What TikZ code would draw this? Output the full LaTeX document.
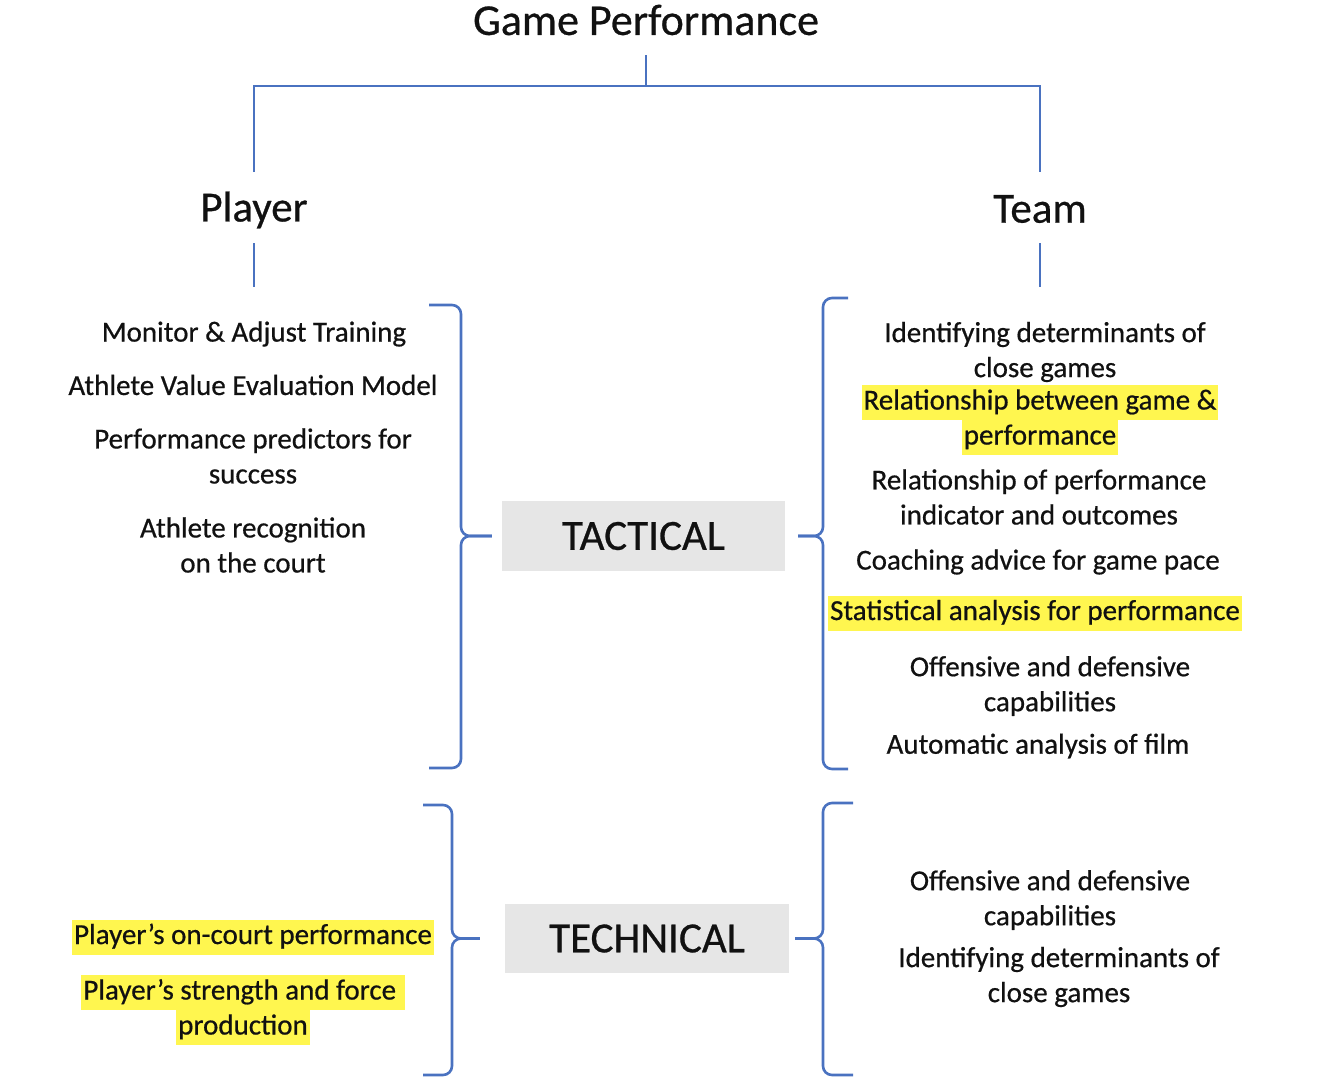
\documentclass[tikz,border=0pt]{standalone}
\usepackage{fontspec}
\setmainfont{Carlito}[FakeBold=0.6]
\usepackage{tikz}
\usetikzlibrary{positioning}
\definecolor{linkblue}{HTML}{4A72C0}
\definecolor{hlyellow}{HTML}{FFF64F}
\definecolor{boxgray}{HTML}{E6E6E6}
\definecolor{inkgray}{HTML}{111111}
\newcommand{\hlt}[1]{{\setlength{\fboxsep}{0pt}\colorbox{hlyellow}{\kern2pt\strut#1\kern2pt}}}

\begin{document}
\begin{tikzpicture}[x=1pt,y=-1pt,
    line/.style={draw=linkblue,line width=2.6pt},
    brace/.style={draw=linkblue,line width=2.6pt,rounded corners=9pt},
    item/.style={align=center,inner sep=0pt,text=inkgray,font=\fontsize{29}{35}\selectfont},
    head/.style={inner sep=0pt,text=inkgray,font=\fontsize{43}{51}\selectfont},
    cat/.style={fill=boxgray,inner sep=0pt,minimum width=283pt,minimum height=70pt,text=inkgray,font=\fontsize{43}{51}\selectfont}]
    \useasboundingbox (0,0) rectangle (1336,1080);

    % tree at the top
    \node[head,font=\fontsize{44}{52}\selectfont] (gp) at (646,20) {Game Performance};
    \node[head] (player) at (254,210) {Player};
    \node[head] (team) at (1040,209) {Team};
    \coordinate (gpstub) at (646,55);
    \coordinate (fork) at (646,86);
    \coordinate (plup) at (254,172);
    \coordinate (tmup) at (1040,172);
    \coordinate (pldownA) at (254,243);
    \coordinate (pldownB) at (254,287);
    \coordinate (tmdownA) at (1040,243);
    \coordinate (tmdownB) at (1040,287);
    \draw[line] (gpstub) -- (fork);
    \draw[line] (plup) |- (fork) -| (tmup);
    \draw[line] (pldownA) -- (pldownB);
    \draw[line] (tmdownA) -- (tmdownB);

    % category boxes
    \node[cat] (tac) at (643.5,536) {TACTICAL};
    \node[cat,minimum width=284pt,minimum height=69pt] (tec) at (647,938.5) {TECHNICAL};

    % braces
    \draw[brace] (429,305) -- (461,305) -- (461,536) -- ([xshift=-10pt]tac.west);
    \draw[brace] ([xshift=-10pt]tac.west) -- (461,536) -- (461,768) -- (429,768);
    \draw[brace] (848,298) -- (823,298) -- (823,536) -- ([xshift=13pt]tac.east);
    \draw[brace] ([xshift=13pt]tac.east) -- (823,536) -- (823,769) -- (848,769);
    \draw[brace] (423,805) -- (452,805) -- (452,938.5) -- ([xshift=-25pt]tec.west);
    \draw[brace] ([xshift=-25pt]tec.west) -- (452,938.5) -- (452,1075) -- (423,1075);
    \draw[brace] (853,803) -- (823,803) -- (823,938.5) -- ([xshift=6pt]tec.east);
    \draw[brace] ([xshift=6pt]tec.east) -- (823,938.5) -- (823,1075) -- (853,1075);

    % player, tactical
    \node[item] (pl1) at (254,334) {Monitor \& Adjust Training};
    \node[item] (pl2) at (253,385) {Athlete Value Evaluation Model};
    \node[item] (pl3) at (253,456) {Performance predictors for\\success};
    \node[item] (pl4) at (253,545) {Athlete recognition\\on the court};

    % team, tactical
    \node[item] (tm1) at (1045,352) {Identifying determinants of\\close games};
    \node[item] (tm2) at (1040,420) {\hlt{Relationship between game \&}\\\hlt{performance}};
    \node[item] (tm3) at (1039,497) {Relationship of performance\\indicator and outcomes};
    \node[item] (tm4) at (1038,562) {Coaching advice for game pace};
    \node[item] (tm5) at (1035,613) {\hlt{Statistical analysis for performance}};
    \node[item] (tm6) at (1050,686) {Offensive and defensive\\capabilities};
    \node[item] (tm7) at (1038,746) {Automatic analysis of film};

    % player, technical
    \node[item] (pt1) at (253,937) {\hlt{Player’s on-court performance}};
    \node[item] (pt2) at (243,1010) {\hlt{Player’s strength and force }\\\hlt{production}};

    % team, technical
    \node[item] (tt1) at (1050,900) {Offensive and defensive\\capabilities};
    \node[item] (tt2) at (1059,977) {Identifying determinants of\\close games};
\end{tikzpicture}
\end{document}
